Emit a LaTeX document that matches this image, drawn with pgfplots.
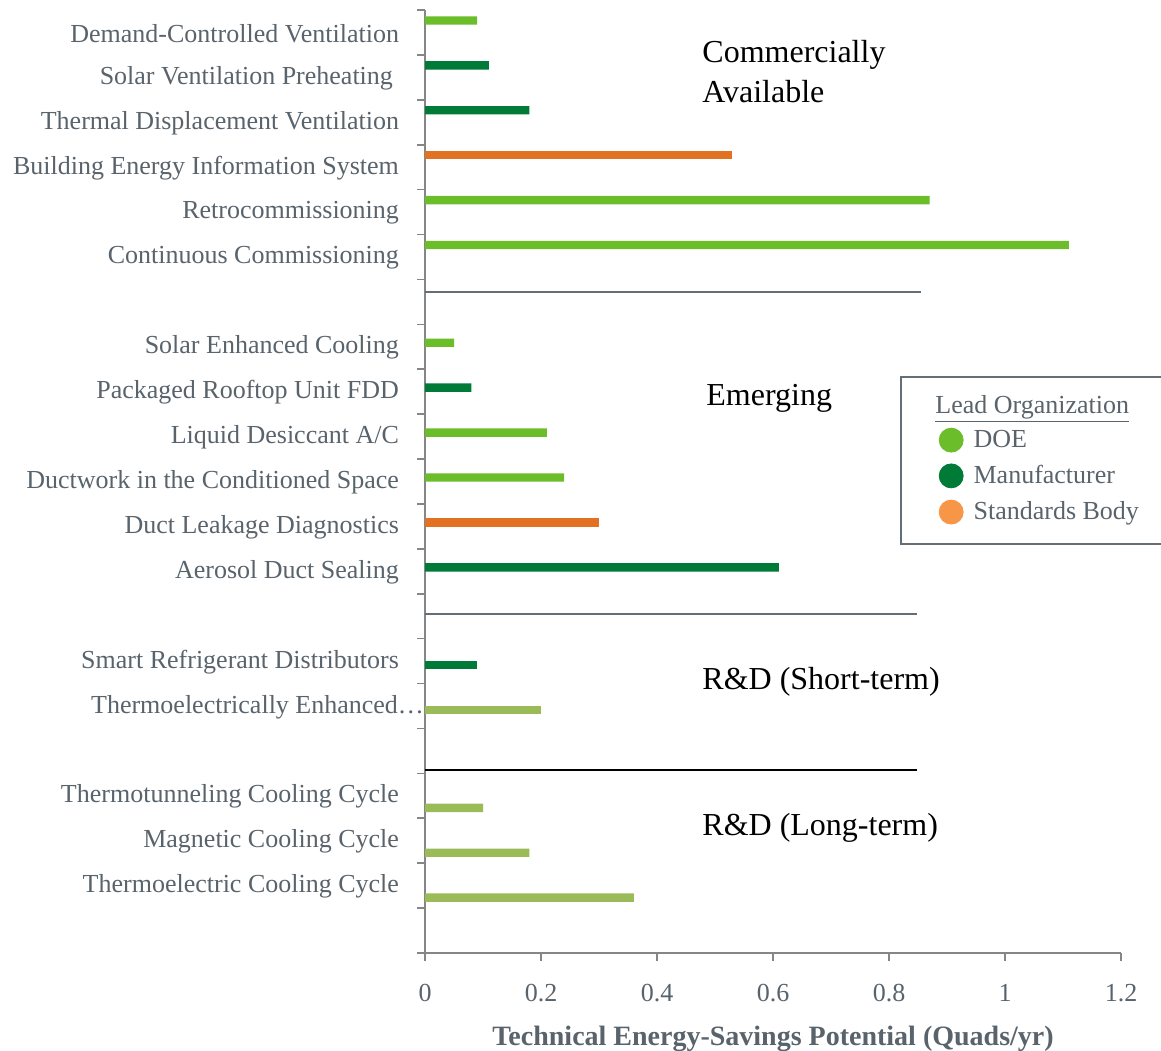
\documentclass[border=0pt]{standalone}
\usepackage{fontspec}
\setmainfont{Liberation Serif}
\usepackage{pgfplots}
\pgfplotsset{compat=1.18}
\definecolor{doe}{RGB}{108,189,42}
\definecolor{mfr}{RGB}{0,122,55}
\definecolor{std}{RGB}{226,114,34}
\definecolor{stdleg}{RGB}{247,150,70}
\definecolor{rnd}{RGB}{155,187,89}
\definecolor{txt}{RGB}{89,99,108}
\definecolor{axgray}{RGB}{134,134,134}
\definecolor{sepgray}{RGB}{100,110,118}
\begin{document}
\begin{tikzpicture}
\useasboundingbox (0,0) rectangle (580.5pt,-525pt);
\begin{axis}[
  at={(212.5pt,-5pt)}, anchor=north west,
  scale only axis, width=348pt, height=471.5pt,
  xbar, bar width=4.2pt,
  xmin=0, xmax=1.2, ymin=-0.5, ymax=20.5,
  axis x line=bottom, axis y line=left,
  x axis line style={-, axgray, line width=1pt},
  y axis line style={-, axgray, line width=1pt},
  xtick={0,0.2,0.4,0.6,0.8,1,1.2},
  ytick={0,...,20},
  minor ytick={-0.5,0.5,...,20.5},
  tick align=outside, major tick length=4pt, minor tick length=4pt,
  every major y tick/.append style={draw=none},
  every tick/.append style={axgray, line width=0.8pt},
  yticklabels={,Thermoelectric Cooling Cycle,Magnetic Cooling Cycle,Thermotunneling Cooling Cycle,,Thermoelectrically Enhanced\ldots\kern-12.5pt,Smart Refrigerant Distributors,,Aerosol Duct Sealing,Duct Leakage Diagnostics,Ductwork in the Conditioned Space,Liquid Desiccant A/C,Packaged Rooftop Unit FDD,Solar Enhanced Cooling,,Continuous Commissioning,Retrocommissioning,Building Energy Information System,Thermal Displacement Ventilation,Solar Ventilation Preheating\kern3pt,Demand-Controlled Ventilation},
  ticklabel style={font=\fontsize{13}{15}\selectfont, text=txt},
  yticklabel style={xshift=-5.5pt, yshift=-0.4pt},
  xticklabel style={yshift=-8pt},
  /pgf/number format/assume math mode=true,
  xlabel={\textbf{Technical Energy-Savings Potential (Quads/yr)}},
  xlabel style={font=\fontsize{14}{16}\selectfont, text=txt, at={(axis description cs:0.5,0)}, anchor=center, yshift=-43pt},
  legend style={draw=none, fill=none, at={(rel axis cs:0.729,0.5635)}, anchor=north west, font=\fontsize{13}{15}\selectfont, text=txt, row sep=3.5pt, cells={anchor=west}},
]
% Commercially available (shift up)
\addplot[fill=doe, draw=none, bar shift=6pt, forget plot] coordinates {(0.09,20) (0.87,16) (1.11,15)};
\addplot[fill=mfr, draw=none, bar shift=6pt, forget plot] coordinates {(0.11,19) (0.18,18)};
\addplot[fill=std, draw=none, bar shift=6pt, forget plot] coordinates {(0.53,17)};
% Emerging
\addplot[fill=doe, draw=none, bar shift=2pt, forget plot] coordinates {(0.05,13) (0.21,11) (0.24,10)};
\addplot[fill=mfr, draw=none, bar shift=2pt, forget plot] coordinates {(0.08,12) (0.61,8)};
\addplot[fill=std, draw=none, bar shift=2pt, forget plot] coordinates {(0.30,9)};
% R&D short-term
\addplot[fill=mfr, draw=none, bar shift=-2pt, forget plot] coordinates {(0.09,6)};
\addplot[fill=rnd, draw=none, bar shift=-2pt, forget plot] coordinates {(0.20,5)};
% R&D long-term
\addplot[fill=rnd, draw=none, bar shift=-6pt, forget plot] coordinates {(0.10,3) (0.18,2) (0.36,1)};
\addlegendimage{legend image code/.code={\fill[doe] (0pt,0pt) circle (6pt); \path (9pt,0pt);}}
\addlegendentry{DOE}
\addlegendimage{legend image code/.code={\fill[mfr] (0pt,0pt) circle (6pt); \path (9pt,0pt);}}
\addlegendentry{Manufacturer}
\addlegendimage{legend image code/.code={\fill[stdleg] (0pt,0pt) circle (6pt); \path (9pt,0pt);}}
\addlegendentry{Standards Body}
\end{axis}
\begin{scope}[x=0.5pt,y=-0.5pt]
\draw[sepgray, line width=1pt] (425,292) -- (921,292);
\draw[sepgray, line width=1pt] (425,614) -- (917,614);
\draw[black, line width=1pt] (425,770) -- (917,770);
\node[anchor=west, inner sep=0pt, align=left, font=\fontsize{16}{20}\selectfont] at (702,72) {Commercially\\Available};
\node[anchor=west, inner sep=0pt, font=\fontsize{16}{20}\selectfont] at (706,398) {Emerging};
\node[anchor=west, inner sep=0pt, font=\fontsize{16}{20}\selectfont] at (702,682) {R\&D (Short-term)};
\node[anchor=west, inner sep=0pt, font=\fontsize{16}{20}\selectfont] at (702,828) {R\&D (Long-term)};
\draw[sepgray, line width=1pt] (901,377) rectangle (1180,544);
\node[anchor=base west, inner sep=0pt, text=txt, font=\fontsize{13}{15}\selectfont] at (935,413) {\underline{Lead Organization}};
\end{scope}
\end{tikzpicture}
\end{document}
